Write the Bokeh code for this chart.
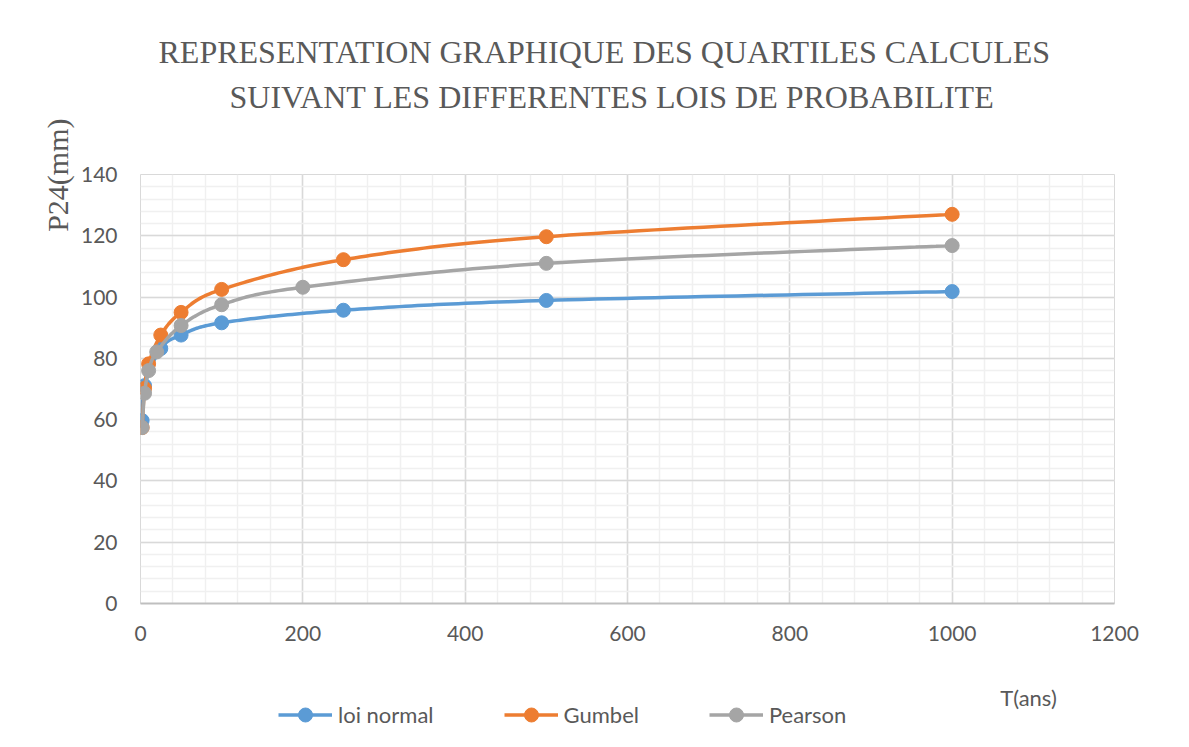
import numpy as np
from bokeh.plotting import figure
from bokeh.layouts import column
from bokeh.models import (Range1d, Legend, LegendItem, SingleIntervalTicker,
                          Title, Label)
from bokeh.embed import file_html
from bokeh.resources import INLINE

# ---------------- data ----------------
T_normal = [2, 5, 25, 50, 100, 250, 500, 1000]
P_normal = [59.7, 71.1, 83.2, 87.6, 91.6, 95.7, 98.9, 101.8]

T_gumbel = [2, 5, 10, 25, 50, 100, 250, 500, 1000]
P_gumbel = [57.4, 70.2, 78.2, 87.6, 95.0, 102.5, 112.2, 119.7, 127.0]

T_pearson = [2, 5, 10, 20, 50, 100, 200, 500, 1000]
P_pearson = [57.4, 68.6, 76.0, 82.1, 90.7, 97.5, 103.2, 111.0, 116.8]

x_ticks = [0, 200, 400, 600, 800, 1000, 1200]
y_ticks = [0, 20, 40, 60, 80, 100, 120, 140]

series_names = ["loi normal", "Gumbel", "Pearson"]
title_lines = ["REPRESENTATION GRAPHIQUE DES QUARTILES CALCULES",
               "SUIVANT LES DIFFERENTES LOIS DE PROBABILITE"]
y_label = "P24(mm)"
x_label = "T(ans)"

COLORS = {"loi normal": "#5B9BD5", "Gumbel": "#ED7D31", "Pearson": "#A5A5A5"}
FONT = "Lato"
TXT = "#595959"


def smooth(xs, ys, n=30):
    """Excel-like smoothed line (Catmull-Rom Bezier) through the points."""
    xs = np.asarray(xs, float)
    ys = np.asarray(ys, float)
    px = np.concatenate([[xs[0]], xs, [xs[-1]]])
    py = np.concatenate([[ys[0]], ys, [ys[-1]]])
    ox, oy = [], []
    t = np.linspace(0, 1, n)
    for i in range(1, len(px) - 2):
        p0x, p1x, p2x, p3x = px[i - 1], px[i], px[i + 1], px[i + 2]
        p0y, p1y, p2y, p3y = py[i - 1], py[i], py[i + 1], py[i + 2]
        c1x, c1y = p1x + (p2x - p0x) / 6, p1y + (p2y - p0y) / 6
        c2x, c2y = p2x - (p3x - p1x) / 6, p2y - (p3y - p1y) / 6
        bx = (1 - t) ** 3 * p1x + 3 * (1 - t) ** 2 * t * c1x + 3 * (1 - t) * t ** 2 * c2x + t ** 3 * p2x
        by = (1 - t) ** 3 * p1y + 3 * (1 - t) ** 2 * t * c1y + 3 * (1 - t) * t ** 2 * c2y + t ** 3 * p2y
        ox.extend(bx.tolist())
        oy.extend(by.tolist())
    return ox, oy


W = 1173
H1 = 660          # main chart
H2 = 75           # legend strip under it
FL, FR = 140, 1114  # frame left / right (px)

# ---------------- main chart ----------------
p = figure(width=W, height=H1, output_backend="svg", toolbar_location=None,
           x_range=Range1d(x_ticks[0], x_ticks[-1]), y_range=Range1d(y_ticks[0], y_ticks[-1]),
           min_border_left=FL, min_border_top=174, min_border_right=W - FR,
           min_border_bottom=H1 - 603)
p.background_fill_color = "white"
p.border_fill_color = "white"
p.outline_line_color = "#D9D9D9"
p.outline_line_width = 1

for ax in (p.xaxis[0], p.yaxis[0]):
    ax.major_tick_line_color = None
    ax.minor_tick_line_color = None
    ax.major_tick_out = 0
    ax.major_tick_in = 0
    ax.minor_tick_out = 0
    ax.minor_tick_in = 0
    ax.major_label_text_font = FONT
    ax.major_label_text_font_size = "21px"
    ax.major_label_text_color = TXT
p.xaxis[0].ticker = SingleIntervalTicker(interval=200, num_minor_ticks=5)
p.yaxis[0].ticker = SingleIntervalTicker(interval=20, num_minor_ticks=5)
p.xaxis[0].axis_line_color = "#BFBFBF"
p.xaxis[0].axis_line_width = 2
p.xaxis[0].major_label_standoff = 22
p.yaxis[0].axis_line_color = None
p.yaxis[0].major_label_standoff = 23

for g in (p.xgrid[0], p.ygrid[0]):
    g.grid_line_color = "#D9D9D9"
    g.grid_line_width = 1.5
    g.minor_grid_line_color = "#F0F0F0"
    g.minor_grid_line_width = 1.5

for name, T, P in zip(series_names, (T_normal, T_gumbel, T_pearson),
                      (P_normal, P_gumbel, P_pearson)):
    sx, sy = smooth(T, P)
    c = COLORS[name]
    p.line(sx, sy, line_color=c, line_width=3.5)
    p.scatter(T, P, size=14, fill_color=c, line_color=c)

# chart title, two lines; a blank spacer sits next to the frame
p.add_layout(Title(text=" ", standoff=47, text_font="Liberation Serif",
                   text_font_size="10px"), "above")
p.add_layout(Title(text=title_lines[1], align="left", offset=89, standoff=0,
                   text_font="Liberation Serif", text_font_size="32px",
                   text_font_style="normal", text_color=TXT), "above")
p.add_layout(Title(text=title_lines[0], align="left", offset=18, standoff=13,
                   text_font="Liberation Serif", text_font_size="32px",
                   text_font_style="normal", text_color=TXT), "above")

# y axis title
p.add_layout(Title(text=y_label, align="right", offset=-56, standoff=8,
                   text_font="Liberation Serif", text_font_size="30px",
                   text_font_style="normal", text_color=TXT), "left")

# ---------------- legend strip (pixel-like coordinates) ----------------
q = figure(width=W, height=H2, output_backend="svg", toolbar_location=None,
           x_range=Range1d(FL, FR), y_range=Range1d(H1 + H2, H1),
           x_axis_location=None, y_axis_location=None,
           min_border_left=FL, min_border_right=W - FR, min_border_top=0, min_border_bottom=0)
q.grid.visible = False
q.outline_line_color = None
q.background_fill_color = "white"
q.border_fill_color = "white"

items = []
for name in series_names:
    c = COLORS[name]
    r1 = q.line([np.nan], [np.nan], line_color=c, line_width=3.5)
    r2 = q.scatter([np.nan], [np.nan], size=14, fill_color=c, line_color=c)
    items.append(LegendItem(label=name, renderers=[r1, r2]))

legend = Legend(items=items, orientation="horizontal", location=(278 - FL, 3),
                label_text_font=FONT, label_text_font_size="22px",
                label_text_color=TXT, glyph_width=54, glyph_height=35,
                spacing=70, border_line_color=None, background_fill_alpha=0,
                label_standoff=6, padding=0, margin=0)
q.add_layout(legend, "center")

q.add_layout(Label(x=1028, y=697, text=x_label, text_font=FONT, text_font_size="22px",
                   text_color=TXT, text_align="center", text_baseline="middle"))

layout = column(p, q, spacing=0)
open("out.html", "w").write(file_html(layout, INLINE))
